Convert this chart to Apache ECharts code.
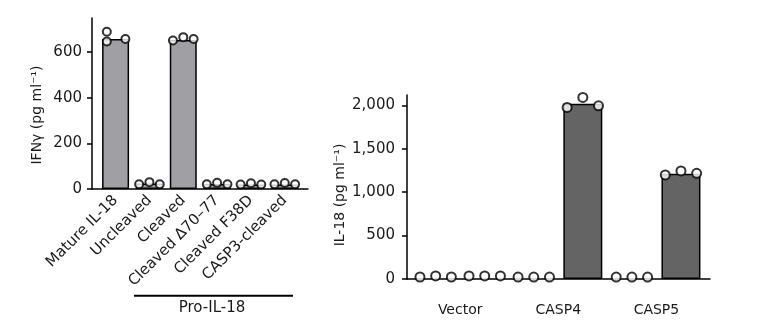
<!DOCTYPE html>
<html>
<head>
<meta charset="utf-8">
<script src="https://cdn.jsdelivr.net/npm/echarts@6/dist/echarts.min.js"></script>
<style>html,body{margin:0;padding:0;background:#fff;}#c{width:770px;height:336px;}</style>
</head>
<body>
<div id="c"></div>
<script>
// ---- Left panel data ----
var leftCategories = ['Mature IL-18', 'Uncleaved', 'Cleaved', 'Cleaved \u039470\u201377', 'Cleaved F38D', 'CASP3-cleaved'];
var leftBars = [658, 24, 654, 22, 20, 20];
var leftPoints = [
  [690, 647, 658],
  [21, 30, 21],
  [651, 666, 658],
  [21, 27, 21],
  [20, 25, 20],
  [21, 26, 21]
];
var leftTicks = [0, 200, 400, 600];
var leftGroupLabel = 'Pro-IL-18';
var leftYName = 'IFN\u03b3 (pg ml\u207b\u00b9)';

// ---- Right panel data ----
var rightGroups = ['Vector', 'CASP4', 'CASP5'];
var rightBars = [null, null, null, 2018, null, 1212];
var rightPoints = [
  [23, 36, 23],
  [36, 36, 36],
  [22, 22, 22],
  [1977, 2092, 1995],
  [22, 22, 22],
  [1199, 1245, 1218]
];
var rightTicks = [0, 500, 1000, 1500, 2000];
var rightYName = 'IL-18 (pg ml\u207b\u00b9)';

var FONT = 'DejaVu Sans';

function barData(arr) {
  var out = [];
  arr.forEach(function (v, i) { if (v !== null) out.push([i, v]); });
  return out;
}
function pointData(arr, step, patterns) {
  var out = [];
  arr.forEach(function (vals, i) {
    var pat = (patterns && patterns[i]) || [-1, 0, 1];
    vals.forEach(function (v, j) { out.push([i + pat[j] * step, v]); });
  });
  return out;
}

var circleStyle = { color: '#ffffff', borderColor: '#000000', borderWidth: 2 };
var axisLine = { show: true, onZero: false, lineStyle: { color: '#000', width: 1.5 } };

var chart = echarts.init(document.getElementById('c'), null, { renderer: 'canvas' });
chart.setOption({
  animation: false,
  backgroundColor: '#ffffff',
  textStyle: { fontFamily: FONT },
  grid: [
    { left: 92, width: 216, top: 18, height: 171 },
    { left: 407, width: 303, top: 95, height: 184 }
  ],
  xAxis: [
    {
      type: 'value', gridIndex: 0, min: -0.697, max: 5.686,
      splitLine: { show: false }, axisTick: { show: false },
      axisLine: axisLine,
      axisLabel: {
        customValues: [0, 1, 2, 3, 4, 5], rotate: 45, margin: 9,
        fontFamily: FONT, fontSize: 15, color: '#1a1a1a',
        formatter: function (v) { return leftCategories[Math.round(v)]; }
      }
    },
    {
      type: 'value', gridIndex: 1, min: -0.584, max: 5.592,
      splitLine: { show: false }, axisTick: { show: false },
      axisLine: axisLine,
      axisLabel: {
        customValues: [0.5, 2.5, 4.5], margin: 24,
        fontFamily: FONT, fontSize: 14, color: '#1a1a1a',
        formatter: function (v) { return rightGroups[Math.round((v - 0.5) / 2)]; }
      }
    }
  ],
  yAxis: [
    {
      type: 'value', gridIndex: 0, min: 0, max: 750,
      splitLine: { show: false },
      axisLine: axisLine,
      axisTick: { show: true, customValues: leftTicks, length: 5, lineStyle: { color: '#000', width: 1.5 } },
      axisLabel: { customValues: leftTicks, margin: 10, fontFamily: FONT, fontSize: 15, color: '#1a1a1a' }
    },
    {
      type: 'value', gridIndex: 1, min: 0, max: 2120,
      splitLine: { show: false },
      axisLine: axisLine,
      axisTick: { show: true, customValues: rightTicks, length: 5, lineStyle: { color: '#000', width: 1.5 } },
      axisLabel: {
        customValues: rightTicks, margin: 12, fontFamily: FONT, fontSize: 15, color: '#1a1a1a',
        formatter: function (v) { return v.toLocaleString('en-US'); }
      }
    }
  ],
  series: [
    {
      type: 'bar', xAxisIndex: 0, yAxisIndex: 0, barWidth: 27,
      data: barData(leftBars),
      itemStyle: { color: '#a0a0a4', borderColor: '#000', borderWidth: 1.5 }, z: 2
    },
    {
      type: 'scatter', xAxisIndex: 0, yAxisIndex: 0, symbol: 'circle', symbolSize: 8,
      data: pointData(leftPoints, 0.305, { 0: [-0.85, -0.85, 0.95] }),
      itemStyle: circleStyle, z: 3
    },
    {
      type: 'bar', xAxisIndex: 1, yAxisIndex: 1, barWidth: 39,
      data: barData(rightBars),
      itemStyle: { color: '#646464', borderColor: '#000', borderWidth: 1.5 }, z: 2
    },
    {
      type: 'scatter', xAxisIndex: 1, yAxisIndex: 1, symbol: 'circle', symbolSize: 9,
      data: pointData(rightPoints, 0.32),
      itemStyle: circleStyle, z: 3
    }
  ],
  graphic: [
    { type: 'text', x: 37, y: 115, rotation: Math.PI / 2,
      style: { text: leftYName, font: '14px "DejaVu Sans"', fill: '#1a1a1a', textAlign: 'center', textVerticalAlign: 'middle' } },
    { type: 'text', x: 340, y: 195, rotation: Math.PI / 2,
      style: { text: rightYName, font: '14px "DejaVu Sans"', fill: '#1a1a1a', textAlign: 'center', textVerticalAlign: 'middle' } },
    { type: 'line', shape: { x1: 134, y1: 295.7, x2: 293, y2: 295.7 }, style: { stroke: '#000', lineWidth: 2 } },
    { type: 'text', x: 212, y: 308,
      style: { text: leftGroupLabel, font: '15px "DejaVu Sans"', fill: '#1a1a1a', textAlign: 'center', textVerticalAlign: 'middle' } }
  ]
});
</script>
</body>
</html>
